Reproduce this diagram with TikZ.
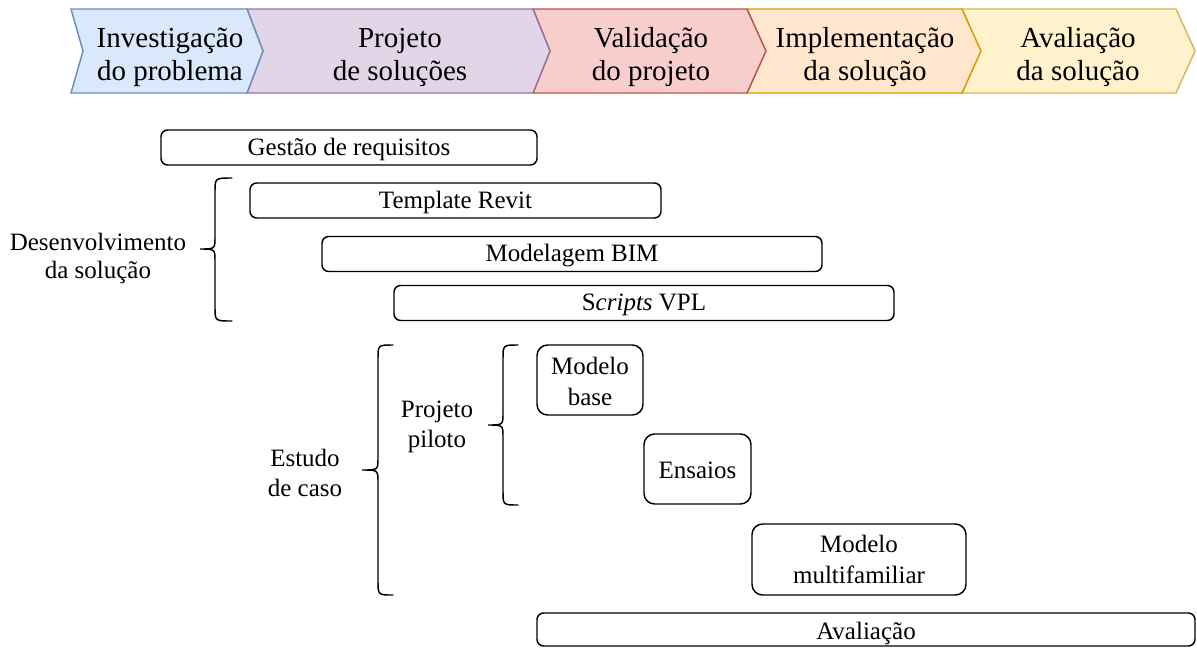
\documentclass[tikz,border=0pt]{standalone}
\usepackage{fontspec}
\IfFontExistsTF{LiberationSerif-Regular.ttf}
  {\setmainfont{LiberationSerif}[Extension=.ttf,UprightFont=*-Regular,ItalicFont=*-Italic,BoldFont=*-Bold,BoldItalicFont=*-BoldItalic]}
  {\setmainfont{Liberation Serif}}
\definecolor{blueF}{HTML}{DAE8FC}\definecolor{blueD}{HTML}{6C8EBF}
\definecolor{purF}{HTML}{E1D5E7}\definecolor{purD}{HTML}{9673A6}
\definecolor{redF}{HTML}{F8CECC}\definecolor{redD}{HTML}{B85450}
\definecolor{orF}{HTML}{FFE6CC}\definecolor{orD}{HTML}{D79B00}
\definecolor{yeF}{HTML}{FFF2CC}\definecolor{yeD}{HTML}{D6B656}
\tikzset{
  phase/.style={align=center,font=\fontsize{21.75}{24.75}\selectfont},
  chev/.style={line width=1.1pt,line join=miter},
  bx/.style 2 args={draw,line width=1.1pt,rounded corners=5pt,minimum width=#1*0.75pt,minimum height=#2*0.75pt,inner sep=0pt,font=\fontsize{18.75}{22.75}\selectfont,align=center},
  tbx/.style 2 args={bx={#1}{#2},rounded corners=8pt},
  lbl/.style={align=center,font=\fontsize{18.75}{21}\selectfont,inner sep=0pt},
  lblw/.style={align=center,font=\fontsize{18.75}{23}\selectfont,inner sep=0pt},
  brace/.style={line width=1.1pt,line cap=round}
}
\newcommand{\dn}[2][1.5pt]{\raisebox{-#1}[\height][\depth]{#2}}
\newcommand{\chevron}[6]{% xl, notch, xr, tip, fill, draw
  \filldraw[chev,fill=#5,draw=#6] (#1,9) -- (#3,9) -- (#4,51) -- (#3,93) -- (#1,93) -- (#2,51) -- cycle;}
\newcommand{\mybrace}[6]{% x, top, bot, mid, cusp, hook
  \draw[brace] (#6,#2) .. controls (#1,#2) .. (#1,#2+14) -- (#1,#4-12) .. controls (#1,#4) .. (#5,#4)
    .. controls (#1,#4) .. (#1,#4+12) -- (#1,#3-14) .. controls (#1,#3) .. (#6,#3);}
\begin{document}
\begin{tikzpicture}[x=0.75pt,y=-0.75pt]
\useasboundingbox (0,0) rectangle (1197,647);
\fill[white] (0,0) rectangle (1197,647);
% header
\chevron{962}{980}{1176}{1195}{yeF}{yeD}
\chevron{747}{765}{962}{981}{orF}{orD}
\chevron{533}{550}{747}{766}{redF}{redD}
\chevron{247}{263}{533}{550}{purF}{purD}
\chevron{71}{83}{247}{263}{blueF}{blueD}
\node[phase] (p1) at (170,57) {Investigação\\do problema};
\node[phase] (p2) at (400,57) {Projeto\\de soluções};
\node[phase] (p3) at (651,57) {Validação\\do projeto};
\node[phase] (p4) at (865,57) {Implementação\\da solução};
\node[phase] (p5) at (1078,57) {Avaliação\\da solução};
% boxes
\node[bx={376}{35}] (ges) at (349,147.5) {\dn{Gestão de requisitos}};
\node[bx={411}{35}] (tem) at (455.5,200.5) {\dn{Template Revit}};
\node[bx={500}{35}] (mod) at (572,254) {\dn{Modelagem BIM}};
\node[bx={500}{35}] (scr) at (644,303) {\dn{S{\itshape cripts} VPL}};
\node[tbx={106}{70}] (mb) at (590,380) {\dn[1pt]{Modelo}\\\dn[1pt]{base}};
\node[tbx={107}{70}] (ens) at (697.5,469) {\dn[1pt]{Ensaios}};
\node[tbx={214}{71}] (mm) at (859,559.5) {Modelo\\multifamiliar};
\node[bx={658}{33}] (ava) at (866,629.5) {\dn[3pt]{Avaliação}};
% labels
\node[lbl] (dev) at (98,258) {Desenvolvimento\\da solução};
\node[lblw] (est) at (305,473) {Estudo\\de caso};
\node[lblw] (pp) at (437,427) {Projeto\\piloto};
% braces
\mybrace{215}{178}{321}{249}{200}{232}
\mybrace{378}{345}{595}{470}{362}{393}
\mybrace{503}{345}{505}{425}{488}{518}
\end{tikzpicture}
\end{document}
